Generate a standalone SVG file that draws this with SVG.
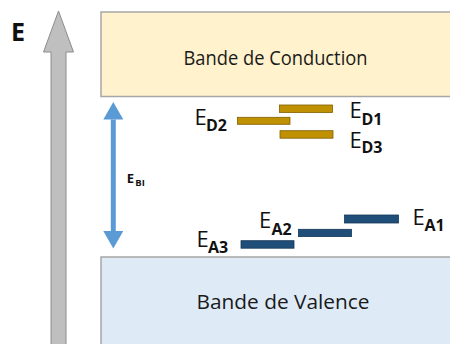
<svg xmlns="http://www.w3.org/2000/svg" width="450" height="344" viewBox="0 0 450 344">
<defs>
<style>
.band-txt{font-family:"Open Sans","Noto Sans",sans-serif;font-size:20px;fill:#1a1a1a;}
.lbl{font-family:"Open Sans","Noto Sans",sans-serif;font-size:22px;fill:#111;}
.sub{font-family:"Open Sans","Noto Sans",sans-serif;font-size:16px;font-weight:bold;fill:#111;}
.small{font-family:"Open Sans","Noto Sans",sans-serif;font-weight:bold;fill:#111;font-size:13px;}
.small-sub{font-size:9.5px;}
.donor{fill:#BF9000;stroke:#7F6000;stroke-width:0.8;}
.acceptor{fill:#1F4E79;stroke:#17385A;stroke-width:0.8;}
.band{stroke:#A6A6A6;stroke-width:1.5;}
</style>
<marker id="bluehead" viewBox="0 0 17.5 20" refX="0" refY="10" markerWidth="17.5" markerHeight="20" markerUnits="userSpaceOnUse" orient="auto-start-reverse">
<path d="M0,0 L17.5,10 L0,20 z" fill="#5B9BD5"/>
</marker>
</defs>
<rect width="450" height="344" fill="#FFFFFF"/>

<g id="energy-axis">
<polygon points="58.5,11 73.5,52 66,52 66,350 51,350 51,52 43.5,52" fill="#BFBFBF" stroke="#8C8C8C" stroke-width="1"/>
<text x="11" y="40.5" font-family="'Open Sans','Noto Sans',sans-serif" font-size="25" font-weight="bold" fill="#111" textLength="14" lengthAdjust="spacingAndGlyphs">E</text>
</g>

<g id="conduction-band">
<rect class="band" x="101" y="12" width="360" height="84.5" fill="#FFF2CC"/>
<text class="band-txt" x="183.5" y="65" textLength="184" lengthAdjust="spacingAndGlyphs">Bande de Conduction</text>
</g>

<g id="valence-band">
<rect class="band" x="101" y="257" width="360" height="100" fill="#DEEBF7"/>
<text class="band-txt" x="196.5" y="309" textLength="173" lengthAdjust="spacingAndGlyphs">Bande de Valence</text>
</g>

<g id="connectors">
<path d="M113.3,119.5 L113.3,231" stroke="#5B9BD5" stroke-width="5" fill="none" marker-start="url(#bluehead)" marker-end="url(#bluehead)"/>
</g>

<g id="label-EBI">
<text class="small" x="126.8" y="182.5">E<tspan class="small-sub" x="135.3" y="186.3">BI</tspan></text>
</g>

<g id="level-ED1">
<rect class="donor" x="279.5" y="105" width="53" height="7.5"/>
<text class="lbl" x="349.5" y="118.3">E<tspan class="sub" x="361.5" y="124.7">D1</tspan></text>
</g>
<g id="level-ED2">
<rect class="donor" x="237.5" y="117.3" width="52.5" height="7"/>
<text class="lbl" x="194.5" y="125">E<tspan class="sub" x="206" y="130.7">D2</tspan></text>
</g>
<g id="level-ED3">
<rect class="donor" x="280" y="130.7" width="53" height="7.5"/>
<text class="lbl" x="349.5" y="148.3">E<tspan class="sub" x="361.5" y="153.3">D3</tspan></text>
</g>

<g id="level-EA1">
<rect class="acceptor" x="344.5" y="215" width="54" height="8"/>
<text class="lbl" x="412.5" y="225">E<tspan class="sub" x="424.5" y="230.7">A1</tspan></text>
</g>
<g id="level-EA2">
<rect class="acceptor" x="298.5" y="229.3" width="53" height="7.3"/>
<text class="lbl" x="259" y="227.7">E<tspan class="sub" x="271.5" y="235">A2</tspan></text>
</g>
<g id="level-EA3">
<rect class="acceptor" x="241" y="240.7" width="53" height="7.5"/>
<text class="lbl" x="196.5" y="247.3">E<tspan class="sub" x="208" y="253.3">A3</tspan></text>
</g>
</svg>
